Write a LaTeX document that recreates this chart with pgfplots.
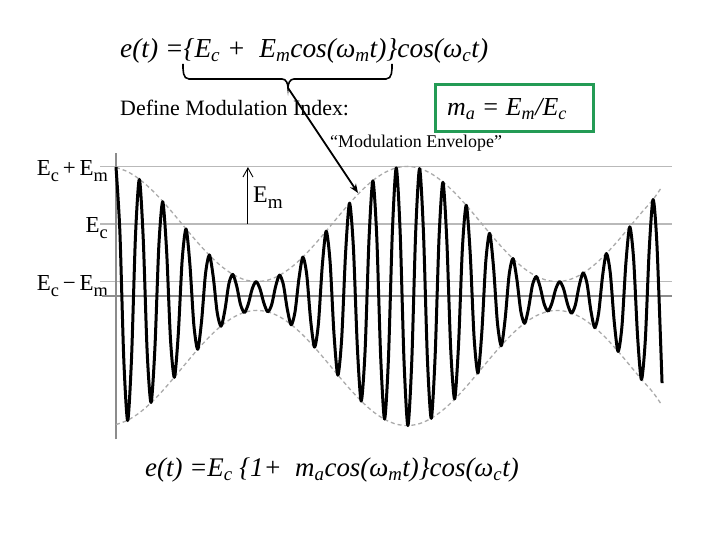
\documentclass[border=0pt]{standalone}
\usepackage{fontspec}
\setmainfont{Liberation Serif}
\usepackage{graphicx}
\usepackage{pgfplots}
\pgfplotsset{compat=1.18}
\usetikzlibrary{arrows.meta}
\definecolor{boxgreen}{RGB}{35,155,85}
\definecolor{gridgray}{RGB}{185,185,185}
\definecolor{zerogray}{RGB}{140,140,140}
\definecolor{envgray}{RGB}{170,170,170}
\newcommand{\fs}[1]{\fontsize{#1}{#1}\selectfont}
\newcommand{\bsub}[1]{\raisebox{-0.25em}{\scalebox{0.8}{#1}}}

\pgfplotstableread{
i A
0 1.786
3 1.726
6 1.623
9 1.483
12 1.315
15 1.127
18 0.932
21 0.741
24 0.566
27 0.416
30 0.301
33 0.227
36 0.200
39 0.220
42 0.287
45 0.396
48 0.541
51 0.713
54 0.902
57 1.097
60 1.287
63 1.459
66 1.604
69 1.713
72 1.780
75 1.800
78 1.773
81 1.699
84 1.584
87 1.435
90 1.259
93 1.068
96 0.873
99 0.686
102 0.517
105 0.377
108 0.274
111 0.214
114 0.201
117 0.236
120 0.316
123 0.437
126 0.590
129 0.769
132 0.962
135 1.156
138 1.341
140.3 1.520
}\upperenv

\pgfplotstableread{
i A
0 -1.786
3 -1.726
6 -1.623
9 -1.483
12 -1.315
15 -1.127
18 -0.932
21 -0.741
24 -0.566
27 -0.416
30 -0.301
33 -0.227
36 -0.200
39 -0.220
42 -0.287
45 -0.396
48 -0.541
51 -0.713
54 -0.902
57 -1.097
60 -1.287
63 -1.459
66 -1.604
69 -1.713
72 -1.780
75 -1.800
78 -1.773
81 -1.699
84 -1.584
87 -1.435
90 -1.259
93 -1.068
96 -0.873
99 -0.686
102 -0.517
105 -0.377
108 -0.274
111 -0.214
114 -0.201
117 -0.236
120 -0.316
123 -0.437
126 -0.590
129 -0.769
132 -0.962
135 -1.156
138 -1.341
140.3 -1.520
}\lowerenv

\pgfplotstableread{
i e
0 1.79
1 0.89
2 -0.88
3 -1.73
4 -0.85
5 0.83
6 1.62
7 0.79
8 -0.77
9 -1.48
10 -0.72
11 0.69
12 1.31
13 0.63
14 -0.60
15 -1.13
16 -0.53
17 0.50
18 0.93
19 0.43
20 -0.40
21 -0.74
22 -0.34
23 0.31
24 0.57
25 0.26
26 -0.23
27 -0.42
28 -0.19
29 0.17
30 0.30
31 0.14
32 -0.12
33 -0.23
34 -0.11
35 0.10
36 0.20
37 0.10
38 -0.10
39 -0.22
40 -0.12
41 0.13
42 0.29
43 0.16
44 -0.18
45 -0.40
46 -0.22
47 0.24
48 0.54
49 0.30
50 -0.33
51 -0.71
52 -0.39
53 0.42
54 0.90
55 0.48
56 -0.52
57 -1.10
58 -0.58
59 0.61
60 1.29
61 0.67
62 -0.70
63 -1.46
64 -0.76
65 0.78
66 1.60
67 0.82
68 -0.84
69 -1.71
70 -0.87
71 0.88
72 1.78
73 0.90
74 -0.90
75 -1.80
76 -0.90
77 0.89
78 1.77
79 0.88
80 -0.86
81 -1.70
82 -0.83
83 0.81
84 1.58
85 0.77
86 -0.74
87 -1.43
88 -0.69
89 0.66
90 1.26
91 0.60
92 -0.57
93 -1.07
94 -0.50
95 0.47
96 0.87
97 0.40
98 -0.37
99 -0.69
100 -0.31
101 0.29
102 0.52
103 0.23
104 -0.21
105 -0.38
106 -0.17
107 0.15
108 0.27
109 0.12
110 -0.11
111 -0.21
112 -0.10
113 0.10
114 0.20
115 0.10
116 -0.11
117 -0.24
118 -0.13
119 0.14
120 0.32
121 0.18
122 -0.20
123 -0.44
124 -0.24
125 0.27
126 0.59
127 0.32
128 -0.35
129 -0.77
130 -0.42
131 0.45
132 0.96
133 0.51
134 -0.55
135 -1.16
136 -0.61
137 0.64
138 1.34
139 0.70
140.3 -1.21
}\signal

\begin{document}
\begin{tikzpicture}[x=1bp,y=1bp]
\useasboundingbox (0,0) rectangle (720,540);
\begin{axis}[
  at={(116bp,100bp)}, anchor=south west,
  scale only axis, width=556bp, height=288bp,
  xmin=0, xmax=142.86, ymin=-2, ymax=2,
  clip=false,
  axis line style={draw=none},
  xtick=\empty,
  ytick={0.2,1,1.8},
  yticklabels={E\bsub{c}\,{−}\,E\bsub{m}, E\bsub{c}, E\bsub{c}\,+\,E\bsub{m}},
  major tick length=0pt,
  yticklabel style={anchor=base east, inner sep=0pt, xshift=-8bp, yshift=-9bp, font=\fs{23}},
]
\addplot[gridgray, line width=1.2bp] coordinates {(-4.1,1.8) (142.86,1.8)};
\addplot[gridgray, line width=1.2bp] coordinates {(-4.1,1) (142.86,1)};
\addplot[gridgray, line width=1.2bp] coordinates {(-4.1,0.2) (142.86,0.2)};
\addplot[zerogray, line width=1.2bp] coordinates {(-3.6,0) (142.86,0)};
\addplot[zerogray, line width=1.2bp] coordinates {(0,-1.99) (0,1.99)};
\addplot[envgray, line width=1.3bp, dash pattern=on 4bp off 3bp, smooth] table[x=i, y=A] {\upperenv};
\addplot[envgray, line width=1.3bp, dash pattern=on 4bp off 3bp, smooth] table[x=i, y=A] {\lowerenv};
\addplot[black, line width=3bp, line join=round, smooth, tension=0.45] table[x=i, y=e] {\signal};
\draw[-{Straight Barb[length=9bp,width=10bp]}, line width=0.9bp] (axis cs:33.9,1) -- (axis cs:33.9,1.79);
\end{axis}
% annotations
\draw[line width=1.6bp] (183,476) to[out=-90,in=180] (189,461) -- (282,461) to[out=0,in=90] (288,452) to[out=90,in=180] (294,461) -- (386,461) to[out=0,in=-90] (392,476);
\draw[line width=1.8bp, -{Stealth[length=9bp,width=7bp]}] (288,452) -- (358,347);
\node[anchor=base west, inner sep=0, font=\fs{27.5}\itshape] at (120,482) {e(t) =\{E\textsubscript{c} + \ E\textsubscript{m}cos(ω\textsubscript{m}t)\}cos(ω\textsubscript{c}t)};
\node[anchor=base west, inner sep=0, font=\fs{22}] at (120,424) {Define Modulation Index:};
\node[anchor=base west, inner sep=0, font=\fs{26}\itshape] at (447,424) {m\textsubscript{a} = E\textsubscript{m}/E\textsubscript{c}};
\draw[boxgreen, line width=3bp] (435,408) rectangle (593,455);
\node[anchor=base west, inner sep=0, font=\fs{18}] at (330,392) {“Modulation Envelope”};
\node[anchor=base west, inner sep=0, font=\fs{24}] at (253,337) {E\bsub{m}};
\node[anchor=base west, inner sep=0, font=\fs{27}\itshape] at (145,63) {e(t) =E\textsubscript{c} \{1+ \ m\textsubscript{a}cos(ω\textsubscript{m}t)\}cos(ω\textsubscript{c}t)};
\end{tikzpicture}
\end{document}
